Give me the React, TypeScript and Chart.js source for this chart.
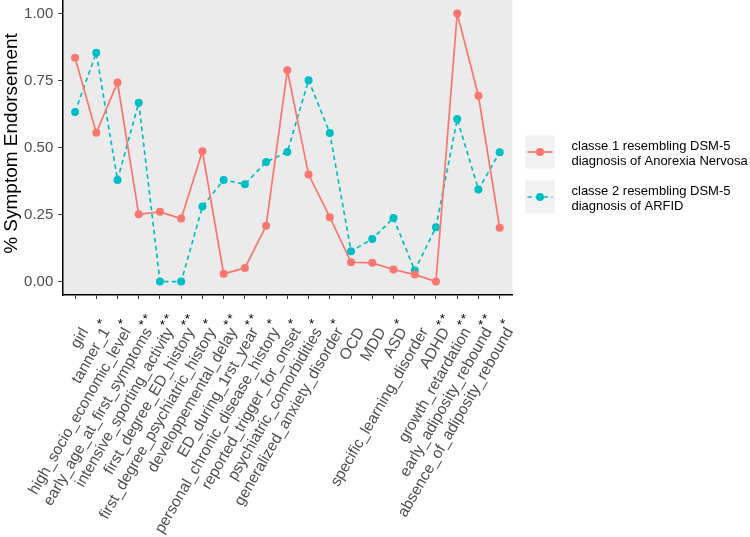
import React, { useEffect, useRef } from "react";
import { Chart, registerables } from "chart.js";

Chart.register(...registerables);

const categories = [
  "girl",
  "tanner_1",
  "high_socio_economic_level",
  "early_age_at_first_symptoms",
  "intensive_sporting_activity",
  "first_degree_ED_history",
  "first_degree_psychiatric_history",
  "developpemental_delay",
  "ED_during_1rst_year",
  "personal_chronic_disease_history",
  "reported_trigger_for_onset",
  "psychiatric_comorbidities",
  "generalized_anxiety_disorder",
  "OCD",
  "MDD",
  "ASD",
  "specific_learning_disorder",
  "ADHD",
  "growth_retardation",
  "early_adiposity_rebound",
  "absence_of_adiposity_rebound",
];

const significance = [
  "", "*", "*", "**", "**", "**", "*", "**", "**", "*", "*",
  "*", "*", "", "", "*", "", "**", "**", "**", "*",
];

const class1Values = [
  0.835, 0.555, 0.742, 0.251, 0.26, 0.235, 0.486, 0.029, 0.051, 0.208, 0.788,
  0.399, 0.24, 0.072, 0.07, 0.045, 0.026, 0.0, 1.0, 0.693, 0.201,
];

const class2Values = [
  0.632, 0.853, 0.379, 0.667, 0.0, 0.0, 0.28, 0.379, 0.363, 0.446, 0.483,
  0.751, 0.554, 0.113, 0.159, 0.237, 0.041, 0.203, 0.606, 0.343, 0.482,
];

const yTickValues = [0, 0.25, 0.5, 0.75, 1];

const class1Label = ["classe 1 resembling DSM-5", "diagnosis of Anorexia Nervosa"];
const class2Label = ["classe 2 resembling DSM-5", "diagnosis of ARFID"];
const yTitle = "% Symptom Endorsement";

const RED = "#F8766D";
const TEAL = "#00BFC4";
const FONT = "'Liberation Sans', Arial, Helvetica, sans-serif";
const DASH = [4.5, 3.5];

const decorPlugin = {
  id: "decor",
  beforeDraw(chart: any) {
    const { ctx, chartArea } = chart;
    ctx.save();
    ctx.fillStyle = "#EBEBEB";
    ctx.fillRect(chartArea.left, chartArea.top, chartArea.right - chartArea.left, chartArea.bottom - chartArea.top);
    ctx.restore();
  },
  afterDraw(chart: any) {
    const { ctx } = chart;
    const xs = chart.scales.x;
    const bottom = chart.chartArea.bottom;
    const ang = (60 * Math.PI) / 180;

    // x labels
    ctx.save();
    ctx.font = `15.5px ${FONT}`;
    ctx.fillStyle = "#4D4D4D";
    categories.forEach((lab, i) => {
      const px = xs.getPixelForValue(i);
      ctx.save();
      ctx.translate(px + 13.8, bottom + 36.4);
      ctx.rotate(-ang);
      ctx.textAlign = "right";
      ctx.textBaseline = "alphabetic";
      ctx.fillText(lab, 0, 0);
      ctx.restore();
    });
    ctx.restore();

    // significance stars
    ctx.save();
    ctx.font = `13.5px ${FONT}`;
    ctx.fillStyle = "#000";
    ctx.textAlign = "center";
    ctx.textBaseline = "alphabetic";
    significance.forEach((s, i) => {
      const px = xs.getPixelForValue(i);
      if (s === "*") {
        ctx.fillText("*", px + 3, bottom + 25 + 7.6);
      } else if (s === "**") {
        ctx.fillText("*", px + 2.3, bottom + 26 + 7.6);
        ctx.fillText("*", px + 6.3, bottom + 20.3 + 7.6);
      }
    });
    ctx.restore();

    // y title
    ctx.save();
    ctx.font = `19px ${FONT}`;
    ctx.fillStyle = "#000";
    ctx.translate(16.5, (chart.chartArea.top + chart.chartArea.bottom) / 2 - 4);
    ctx.rotate(-Math.PI / 2);
    ctx.textAlign = "center";
    ctx.textBaseline = "alphabetic";
    ctx.fillText(yTitle, 0, 0);
    ctx.restore();

    // legend
    const drawKey = (top: number, color: string, dashed: boolean, lines: string[]) => {
      const kx = 525;
      const kw = 30;
      const kh = 33;
      ctx.save();
      ctx.fillStyle = "#F2F2F2";
      ctx.fillRect(kx, top, kw, kh);
      const cy = top + kh / 2;
      ctx.strokeStyle = color;
      ctx.lineWidth = 1.7;
      ctx.setLineDash(dashed ? DASH : []);
      ctx.beginPath();
      ctx.moveTo(kx + 2.5, cy);
      ctx.lineTo(kx + kw - 2.5, cy);
      ctx.stroke();
      ctx.setLineDash([]);
      ctx.fillStyle = color;
      ctx.beginPath();
      ctx.arc(kx + kw / 2, cy, 4, 0, Math.PI * 2);
      ctx.fill();
      ctx.font = `13px ${FONT}`;
      ctx.fillStyle = "#000";
      ctx.textAlign = "left";
      ctx.textBaseline = "alphabetic";
      ctx.fillText(lines[0], 571.5, cy - 2.5);
      ctx.fillText(lines[1], 571.5, cy + 13);
      ctx.restore();
    };
    drawKey(135.5, RED, false, class1Label);
    drawKey(180.5, TEAL, true, class2Label);
  },
};

export default function App() {
  const ref = useRef<HTMLCanvasElement | null>(null);
  useEffect(() => {
    if (!ref.current) return;
    const chart = new Chart(ref.current, {
      type: "line",
      data: {
        datasets: [
          {
            label: class1Label.join(" "),
            data: class1Values.map((v, i) => ({ x: i, y: v })),
            borderColor: RED,
            backgroundColor: RED,
            borderWidth: 1.7,
            pointRadius: 4,
            pointHoverRadius: 4,
            pointBorderWidth: 0,
            tension: 0,
          },
          {
            label: class2Label.join(" "),
            data: class2Values.map((v, i) => ({ x: i, y: v })),
            borderColor: TEAL,
            backgroundColor: TEAL,
            borderWidth: 1.7,
            borderDash: DASH,
            pointRadius: 4,
            pointHoverRadius: 4,
            pointBorderWidth: 0,
            tension: 0,
          },
        ],
      },
      options: {
        responsive: false,
        animation: false,
        events: [],
        layout: { autoPadding: false, padding: { left: 0, right: 237.6, top: 0, bottom: 0 } },
        plugins: { legend: { display: false }, tooltip: { enabled: false } },
        scales: {
          x: {
            type: "linear",
            min: -0.6,
            max: categories.length - 1 + 0.6,
            afterBuildTicks: (s: any) => {
              s.ticks = categories.map((_, i) => ({ value: i }));
            },
            afterFit: (s: any) => {
              s.height = 242;
              s.paddingLeft = 0;
              s.paddingRight = 0;
            },
            ticks: { display: false },
            grid: { drawOnChartArea: false, drawTicks: true, tickLength: 4, color: "#333", lineWidth: 1 },
            border: { display: true, color: "#000", width: 1.5 },
          },
          y: {
            type: "linear",
            min: -0.05,
            max: 1.05,
            afterBuildTicks: (s: any) => {
              s.ticks = yTickValues.map((v) => ({ value: v }));
            },
            afterFit: (s: any) => {
              s.width = 62.3;
              s.paddingTop = 0;
              s.paddingBottom = 0;
            },
            ticks: {
              callback: (v: any) => Number(v).toFixed(2),
              font: { size: 15, family: FONT },
              color: "#4D4D4D",
              padding: 5,
            },
            grid: { drawOnChartArea: false, drawTicks: true, tickLength: 4, color: "#333", lineWidth: 1 },
            border: { display: true, color: "#000", width: 1.5 },
          },
        },
      },
      plugins: [decorPlugin],
    });
    return () => chart.destroy();
  }, []);
  return (
    <div style={{ position: "absolute", left: 0, top: 0, width: 750, height: 537, background: "#fff" }}>
      <canvas ref={ref} width={750} height={537} />
    </div>
  );
}
